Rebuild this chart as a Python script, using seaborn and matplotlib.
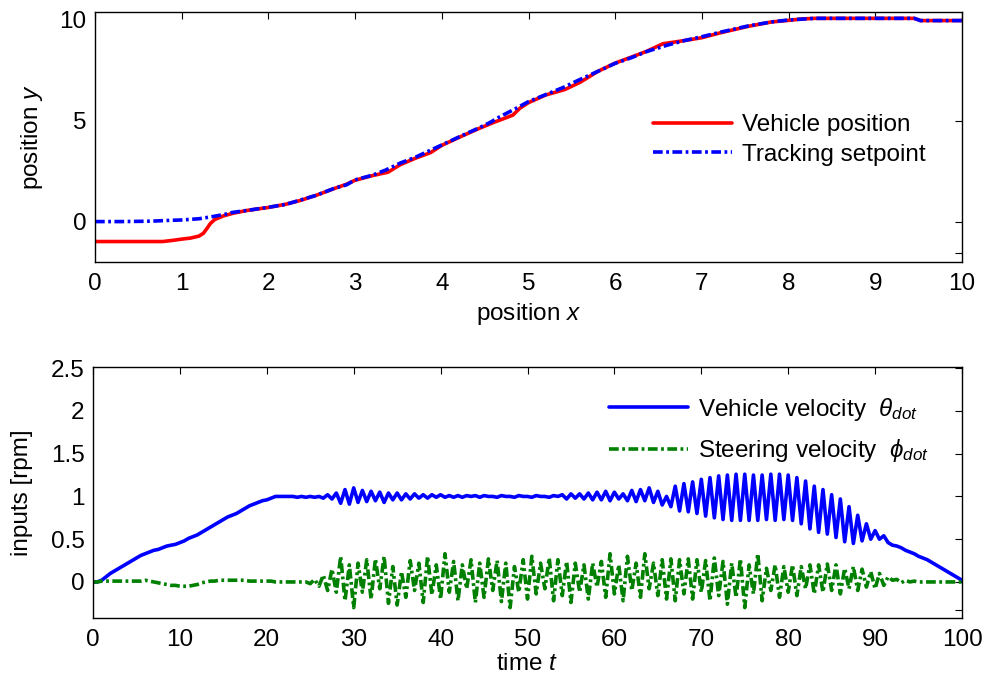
import numpy as np
import pandas as pd
import matplotlib
matplotlib.use("Agg")
import matplotlib.pyplot as plt
import seaborn as sns

# ---- trajectory in the plane ----
vehicle_x = [0, 0.4, 0.78, 0.9, 1.0, 1.1, 1.2, 1.25, 1.29, 1.33, 1.38, 1.48, 1.6, 1.75, 2.0,
             2.2, 2.37, 2.55, 2.76, 2.9, 3.0, 3.2, 3.38, 3.52, 3.7, 3.87, 4.0, 4.2, 4.42, 4.6,
             4.82, 4.9, 5.0, 5.2, 5.42, 5.6, 5.8, 6.0, 6.2, 6.36, 6.55, 6.8, 7.0, 7.2, 7.53,
             7.8, 8.0, 8.15, 8.3, 8.8, 9.45, 9.52, 10.0]
vehicle_y = [-0.99, -0.99, -0.99, -0.93, -0.87, -0.82, -0.72, -0.58, -0.35, -0.1, 0.1, 0.28, 0.42, 0.55, 0.7,
             0.86, 1.05, 1.3, 1.64, 1.85, 2.05, 2.28, 2.45, 2.82, 3.15, 3.42, 3.78, 4.18, 4.6, 4.92,
             5.28, 5.62, 5.9, 6.28, 6.55, 6.92, 7.45, 7.86, 8.18, 8.44, 8.82, 8.98, 9.12, 9.35, 9.68,
             9.9, 9.98, 10.05, 10.08, 10.08, 10.08, 9.97, 9.97]

setpoint_x = [0, 0.3, 0.65, 0.8, 1.0, 1.2, 1.36, 1.5, 1.58, 1.75, 2.0, 2.2, 2.37, 2.55, 2.76,
              2.9, 3.0, 3.2, 3.35, 3.52, 3.7, 3.85, 4.0, 4.2, 4.42, 4.55, 4.67, 4.85, 5.0, 5.2,
              5.4, 5.58, 5.8, 6.0, 6.2, 6.36, 6.6, 6.8, 7.0, 7.2, 7.53, 7.8, 8.0, 8.3, 8.8,
              9.45, 9.52, 10.0]
setpoint_y = [0, 0, 0.02, 0.05, 0.08, 0.14, 0.25, 0.36, 0.45, 0.55, 0.71, 0.85, 1.07, 1.3, 1.65,
              1.82, 2.07, 2.3, 2.55, 2.9, 3.2, 3.5, 3.8, 4.2, 4.63, 4.9, 5.2, 5.6, 5.95, 6.3,
              6.65, 7.02, 7.45, 7.85, 8.15, 8.43, 8.75, 8.98, 9.17, 9.38, 9.7, 9.9, 10.0, 10.08, 10.08,
              10.08, 9.97, 9.97]

# ---- control inputs, sampled every 0.5 time units ----
time_t = np.arange(0, 100.5, 0.5)
vehicle_velocity = [
    0.0, 0.0, 0.02, 0.06, 0.1, 0.13, 0.16, 0.19, 0.22, 0.25,
    0.28, 0.31, 0.33, 0.35, 0.37, 0.38, 0.4, 0.42, 0.43, 0.44,
    0.46, 0.48, 0.51, 0.53, 0.55, 0.58, 0.61, 0.64, 0.67, 0.7,
    0.73, 0.76, 0.78, 0.8, 0.83, 0.86, 0.89, 0.91, 0.93, 0.95,
    0.96, 0.98, 1.0, 1.0, 1.0, 1.0, 1.0, 0.99, 1.0, 0.99,
    1.0, 0.99, 1.0, 0.98, 1.02, 0.97, 1.04, 0.92, 1.08, 0.91,
    1.1, 0.93, 1.07, 0.94, 1.06, 0.95, 1.05, 0.93, 1.04, 0.96,
    1.04, 0.96, 1.03, 0.97, 1.03, 0.98, 1.02, 0.98, 1.02, 0.99,
    1.02, 0.99, 1.01, 0.99, 1.01, 0.99, 1.01, 1.0, 1.01, 0.99,
    1.01, 1.0, 1.0, 0.99, 1.01, 1.0, 1.0, 0.99, 1.01, 1.0,
    1.0, 0.99, 1.01, 1.0, 1.0, 0.99, 1.01, 1.0, 1.02, 0.97,
    1.03, 0.98, 1.03, 0.97, 1.04, 0.96, 1.05, 0.96, 1.06, 0.95,
    1.05, 0.97, 1.03, 0.95, 1.07, 0.94, 1.08, 0.95, 1.1, 0.93,
    1.06, 0.9, 1.0, 0.88, 1.12, 0.83, 1.15, 0.82, 1.17, 0.8,
    1.2, 0.77, 1.22, 0.75, 1.24, 0.73, 1.25, 0.72, 1.26, 0.72,
    1.26, 0.72, 1.25, 0.72, 1.25, 0.73, 1.26, 0.72, 1.26, 0.73,
    1.25, 0.72, 1.22, 0.68, 1.18, 0.62, 1.12, 0.58, 1.08, 0.56,
    1.02, 0.52, 0.97, 0.47, 0.88, 0.45, 0.78, 0.48, 0.68, 0.5,
    0.6, 0.5, 0.54, 0.46, 0.43, 0.42, 0.4, 0.37, 0.35, 0.33,
    0.3, 0.28, 0.26, 0.23, 0.2, 0.17, 0.14, 0.11, 0.08, 0.05,
    0.02,
]
steering_velocity = [
    0.0, 0.0, 0.01, 0.01, 0.01, 0.01, 0.01, 0.01, 0.01, 0.01,
    0.01, 0.01, 0.02, 0.01, 0.0, -0.01, -0.02, -0.03, -0.04, -0.04,
    -0.05, -0.05, -0.05, -0.04, -0.03, -0.01, 0.0, 0.01, 0.01, 0.02,
    0.02, 0.02, 0.02, 0.02, 0.02, 0.02, 0.01, 0.01, 0.01, 0.01,
    0.01, 0.01, 0.0, 0.0, 0.0, 0.0, 0.0, 0.0, 0.0, 0.0,
    -0.02, 0.03, -0.05, 0.08, -0.1, 0.15, -0.12, 0.3, -0.22, 0.2,
    -0.3, 0.22, -0.12, 0.26, -0.2, 0.27, -0.08, 0.3, -0.25, 0.18,
    -0.27, 0.12, -0.18, 0.25, -0.1, 0.22, -0.24, 0.3, -0.15, 0.2,
    -0.2, 0.33, -0.12, 0.24, -0.22, 0.2, -0.08, 0.26, -0.24, 0.22,
    -0.18, 0.27, -0.1, 0.25, -0.23, 0.22, -0.3, 0.18, -0.12, 0.26,
    -0.2, 0.3, -0.14, 0.22, -0.08, 0.28, -0.22, 0.26, -0.16, 0.24,
    -0.24, 0.22, -0.12, 0.2, -0.2, 0.22, -0.06, 0.24, -0.18, 0.33,
    -0.14, 0.2, -0.22, 0.3, -0.1, 0.22, -0.18, 0.33, -0.08, 0.22,
    -0.16, 0.26, -0.2, 0.27, -0.22, 0.26, -0.14, 0.27, -0.2, 0.26,
    -0.12, 0.25, -0.22, 0.28, -0.16, 0.24, -0.26, 0.22, -0.18, 0.27,
    -0.3, 0.2, -0.14, 0.33, -0.22, 0.16, -0.1, 0.2, -0.18, 0.18,
    -0.12, 0.2, -0.16, 0.18, -0.08, 0.2, -0.14, 0.2, -0.12, 0.21,
    -0.1, 0.2, -0.14, 0.16, -0.08, 0.18, -0.1, 0.15, -0.06, 0.12,
    -0.08, 0.1, -0.04, 0.06, 0.02, 0.03, -0.01, 0.02, 0.0, 0.01,
    0.0, 0.0, 0.0, 0.0, 0.0, 0.0, 0.0, 0.0, 0.0, 0.0,
    0.0,
]

pos_ticks_x = list(range(0, 11))
pos_ticks_y = [-1.55, 0, 5, 10]
pos_tick_labels_y = ["", "0", "5", "10"]
time_ticks = list(range(0, 101, 10))
input_ticks = [-0.33, 0, 0.5, 1, 1.5, 2, 2.5]
input_tick_labels = ["", "0", "0.5", "1", "1.5", "2", "2.5"]

sns.set_theme(style="white")
plt.rcParams.update({
    "font.family": ["Liberation Sans", "DejaVu Sans"],
    "mathtext.fontset": "custom",
    "mathtext.rm": "Liberation Sans",
    "mathtext.it": "Liberation Sans:italic",
    "mathtext.bf": "Liberation Sans:bold",
    "lines.scale_dashes": False,
    "axes.edgecolor": "black",
    "axes.linewidth": 1.0,
    "text.color": "black",
    "axes.labelcolor": "black",
    "xtick.color": "black",
    "ytick.color": "black",
})

FS = 17.5
LW = 2.6
DASHDOT = (0, (7, 2.5, 2, 2.5))
RED, BLUE, GREEN = "#ff0000", "#0000ff", "#008000"

fig = plt.figure(figsize=(9.87, 6.82), dpi=100)
ax1 = fig.add_axes([95 / 987, 1 - 262.3 / 682, 867 / 987, 250.6 / 682])
ax2 = fig.add_axes([93 / 987, 1 - 618.3 / 682, 869 / 987, 251 / 682])

traj_vehicle = pd.DataFrame({"x": vehicle_x, "y": vehicle_y})
traj_setpoint = pd.DataFrame({"x": setpoint_x, "y": setpoint_y})
inputs = pd.DataFrame({"t": time_t, "v": vehicle_velocity, "s": steering_velocity})

sns.lineplot(data=traj_vehicle, x="x", y="y", ax=ax1, color=RED, linewidth=LW,
             sort=False, estimator=None, label="Vehicle position")
sns.lineplot(data=traj_setpoint, x="x", y="y", ax=ax1, color=BLUE, linewidth=LW,
             sort=False, estimator=None, label="Tracking setpoint")
ax1.lines[-1].set_linestyle(DASHDOT)

sns.lineplot(data=inputs, x="t", y="v", ax=ax2, color=BLUE, linewidth=LW,
             sort=False, estimator=None, label=r"Vehicle velocity  $\theta_{dot}$")
sns.lineplot(data=inputs, x="t", y="s", ax=ax2, color=GREEN, linewidth=LW,
             sort=False, estimator=None, label=r"Steering velocity  $\phi_{dot}$")
ax2.lines[-1].set_linestyle(DASHDOT)

ax1.set_xlim(0, 10)
ax1.set_ylim(-2.02, 10.41)
ax1.set_xticks(pos_ticks_x)
ax1.set_yticks(pos_ticks_y)
ax1.set_yticklabels(pos_tick_labels_y)

ax2.set_xlim(0, 100)
ax2.set_ylim(-0.425, 2.51)
ax2.set_xticks(time_ticks)
ax2.set_yticks(input_ticks)
ax2.set_yticklabels(input_tick_labels)

for ax in (ax1, ax2):
    ax.tick_params(direction="in", top=True, right=True, length=5, width=0.8,
                   labelsize=FS, pad=6)
    ax.tick_params(axis="x", pad=8)
    for sp in ax.spines.values():
        sp.set_visible(True)
        sp.set_color("black")
        sp.set_linewidth(1.0)

ax1.set_xlabel("position $x$", fontsize=FS)
ax1.set_ylabel("position $y$", fontsize=FS)
ax2.set_xlabel("time $t$", fontsize=FS)
ax2.set_ylabel("inputs [rpm]", fontsize=FS)

ax1.xaxis.label.set_verticalalignment("center")
ax1.xaxis.set_label_coords(0.5, (262.3 - 314) / 250.6)
ax2.xaxis.label.set_verticalalignment("center")
ax2.xaxis.set_label_coords(0.5, (618.3 - 664) / 251)
ax1.yaxis.label.set_verticalalignment("center")
ax1.yaxis.set_label_coords((32 - 95) / 867, 0.5)
ax2.yaxis.label.set_verticalalignment("center")
ax2.yaxis.set_label_coords((22 - 93) / 869, 0.5)

ax1.legend(loc="center left", bbox_to_anchor=(653 / 987, 1 - 140 / 682),
           bbox_transform=fig.transFigure, frameon=False, fontsize=FS,
           handlelength=3.25, handletextpad=0.42, borderpad=0, borderaxespad=0,
           labelspacing=0.3)
ax2.legend(loc="center left", bbox_to_anchor=(609 / 987, 1 - 430 / 682),
           bbox_transform=fig.transFigure, frameon=False, fontsize=FS,
           handlelength=3.25, handletextpad=0.42, borderpad=0, borderaxespad=0,
           labelspacing=0.6)

fig.savefig("out.png", dpi=100, facecolor="white")
